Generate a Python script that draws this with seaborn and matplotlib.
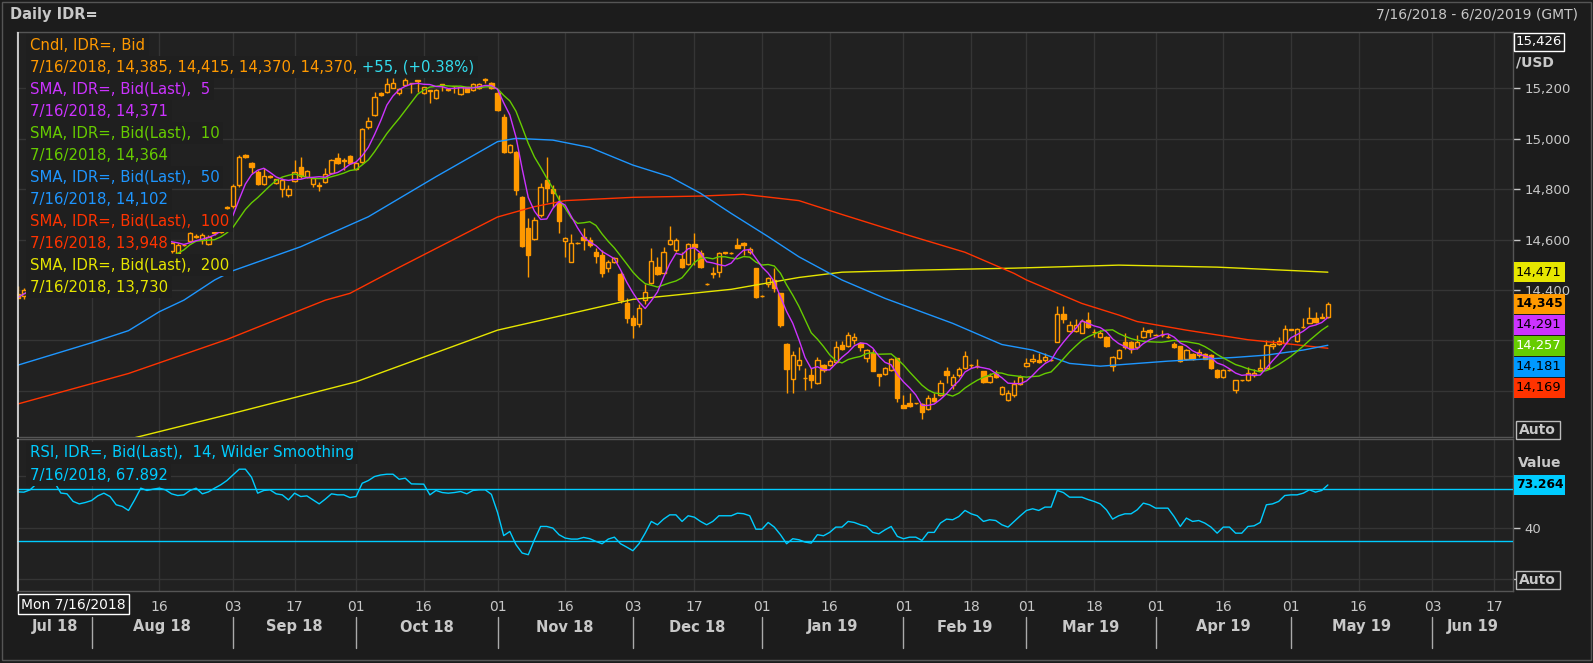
import numpy as np
import pandas as pd
import seaborn as sns
import matplotlib.pyplot as plt
import matplotlib.transforms as mtransforms
from matplotlib.patches import Rectangle

sns.set_theme(style='dark')
plt.rcParams['font.family'] = ['DejaVu Sans']

# ---------------------------------------------------------------------------
# data (one candle per weekday, day 0 = Mon 16 Jul 2018)
# ---------------------------------------------------------------------------
opens = [
    14385, 14375, 14400, 14420, 14470, 14500, 14505, 14490, 14470, 14450,
    14430, 14420, 14425, 14440, 14470, 14490, 14480, 14450, 14440, 14420,
    14480, 14590, 14600, 14610, 14590, 14556, 14548, 14580, 14596, 14615,
    14598, 14583, 14625, 14630, 14725, 14733, 14815, 14935, 14903, 14870,
    14819, 14852, 14826, 14800, 14777, 14834, 14887, 14847, 14819, 14818,
    14827, 14866, 14926, 14918, 14932, 14879, 14909, 15048, 15094, 15180,
    15184, 15203, 15180, 15213, 15222, 15232, 15180, 15193, 15161, 15217,
    15196, 15210, 15178, 15204, 15194, 15200, 15237, 15223, 15180, 15085,
    14949, 14949, 14770, 14645, 14601, 14698, 14836, 14801, 14744, 14595,
    14513, 14587, 14611, 14598, 14552, 14539, 14486, 14513, 14463, 14350,
    14290, 14265, 14360, 14429, 14493, 14469, 14581, 14559, 14522, 14502,
    14582, 14549, 14426, 14465, 14473, 14550, 14548, 14578, 14588, 14552,
    14486, 14377, 14424, 14440, 14387, 14186, 14046, 14102, 14052, 14063,
    14030, 14102, 14102, 14116, 14182, 14178, 14202, 14191, 14129, 14151,
    14067, 14065, 14082, 14129, 13944, 13950, 13951, 13948, 13927, 13970,
    13983, 14080, 14023, 14063, 14089, 14103, 14099, 14079, 14034, 14067,
    13987, 13964, 13982, 14027, 14099, 14118, 14122, 14122, 14122, 14195,
    14307, 14239, 14239, 14231, 14281, 14235, 14212, 14212, 14099, 14129,
    14195, 14195, 14175, 14215, 14241, 14223, 14222, 14215, 14186, 14178,
    14126, 14146, 14142, 14146, 14142, 14083, 14056, 14083, 14003, 14043,
    14043, 14063, 14083, 14089, 14179, 14188, 14191, 14244, 14199, 14254,
    14270, 14291, 14291, 14294]

highs = [
    14415, 14410, 14435, 14480, 14510, 14520, 14510, 14495, 14475, 14455,
    14440, 14435, 14450, 14480, 14500, 14495, 14485, 14455, 14445, 14480,
    14610, 14630, 14625, 14615, 14595, 14592, 14585, 14583, 14630, 14622,
    14628, 14618, 14635, 14705, 14735, 14820, 14935, 14940, 14910, 14875,
    14883, 14855, 14842, 14843, 14817, 14916, 14930, 14875, 14850, 14830,
    14883, 14920, 14942, 14925, 14935, 14910, 15045, 15088, 15187, 15187,
    15240, 15240, 15200, 15240, 15223, 15233, 15207, 15193, 15198, 15217,
    15198, 15210, 15207, 15207, 15220, 15222, 15240, 15226, 15195, 15098,
    14978, 14952, 14775, 14684, 14691, 14823, 14929, 14817, 14777, 14610,
    14622, 14590, 14645, 14611, 14565, 14559, 14519, 14532, 14470, 14370,
    14300, 14345, 14426, 14565, 14532, 14572, 14654, 14605, 14552, 14585,
    14625, 14559, 14430, 14493, 14552, 14553, 14551, 14605, 14592, 14569,
    14486, 14380, 14453, 14486, 14390, 14190, 14159, 14175, 14089, 14089,
    14135, 14106, 14125, 14198, 14199, 14235, 14228, 14195, 14168, 14168,
    14067, 14093, 14129, 14130, 13983, 13990, 13953, 13950, 13983, 13990,
    14045, 14096, 14067, 14096, 14158, 14106, 14125, 14080, 14069, 14083,
    14019, 14003, 14043, 14063, 14129, 14146, 14149, 14151, 14125, 14336,
    14336, 14278, 14284, 14284, 14314, 14244, 14241, 14217, 14138, 14168,
    14228, 14197, 14221, 14254, 14244, 14225, 14241, 14225, 14192, 14180,
    14166, 14150, 14165, 14150, 14145, 14085, 14085, 14085, 14043, 14045,
    14093, 14085, 14125, 14202, 14202, 14215, 14261, 14246, 14248, 14288,
    14334, 14314, 14310, 14354]

lows = [
    14370, 14365, 14395, 14415, 14460, 14490, 14480, 14460, 14440, 14420,
    14410, 14410, 14420, 14435, 14465, 14470, 14445, 14430, 14410, 14415,
    14475, 14580, 14590, 14580, 14560, 14546, 14545, 14575, 14592, 14605,
    14583, 14578, 14620, 14625, 14720, 14725, 14810, 14925, 14863, 14815,
    14817, 14845, 14822, 14770, 14770, 14830, 14843, 14843, 14810, 14793,
    14823, 14862, 14900, 14876, 14900, 14875, 14905, 15041, 15090, 15170,
    15180, 15200, 15175, 15210, 15183, 15187, 15178, 15143, 15158, 15191,
    15190, 15180, 15175, 15184, 15190, 15197, 15220, 15197, 15110, 14942,
    14945, 14777, 14570, 14453, 14598, 14691, 14750, 14731, 14625, 14532,
    14513, 14582, 14559, 14572, 14506, 14450, 14473, 14506, 14350, 14270,
    14210, 14255, 14345, 14426, 14460, 14466, 14578, 14552, 14486, 14499,
    14499, 14486, 14420, 14446, 14453, 14545, 14545, 14565, 14539, 14545,
    14367, 14373, 14413, 14393, 14252, 13990, 13990, 14083, 14003, 14010,
    14027, 14076, 14099, 14109, 14162, 14175, 14188, 14159, 14116, 14080,
    14019, 14063, 14080, 13957, 13934, 13937, 13947, 13887, 13924, 13957,
    13979, 14032, 14006, 14056, 14085, 14089, 14089, 14030, 14030, 14050,
    13983, 13961, 13977, 14023, 14093, 14109, 14109, 14116, 14120, 14195,
    14270, 14235, 14235, 14228, 14248, 14215, 14208, 14175, 14080, 14125,
    14168, 14149, 14168, 14208, 14215, 14220, 14215, 14208, 14172, 14116,
    14122, 14122, 14135, 14125, 14085, 14050, 14052, 14080, 13990, 14040,
    14040, 14056, 14083, 14085, 14168, 14182, 14188, 14240, 14195, 14248,
    14268, 14270, 14288, 14291]

closes = [
    14370, 14400, 14420, 14470, 14500, 14505, 14490, 14470, 14450, 14430,
    14420, 14425, 14440, 14470, 14490, 14480, 14450, 14440, 14420, 14470,
    14590, 14600, 14610, 14590, 14570, 14588, 14579, 14578, 14625, 14610,
    14618, 14612, 14630, 14700, 14730, 14813, 14929, 14930, 14887, 14819,
    14852, 14848, 14839, 14837, 14800, 14870, 14852, 14872, 14843, 14812,
    14859, 14916, 14903, 14914, 14903, 14905, 15041, 15071, 15165, 15176,
    15216, 15223, 15196, 15233, 15220, 15230, 15204, 15191, 15194, 15215,
    15194, 15208, 15204, 15187, 15217, 15217, 15235, 15200, 15114, 14949,
    14975, 14797, 14575, 14539, 14680, 14810, 14807, 14786, 14674, 14607,
    14585, 14585, 14598, 14579, 14535, 14469, 14513, 14526, 14360, 14290,
    14260, 14330, 14393, 14515, 14464, 14552, 14598, 14598, 14490, 14582,
    14572, 14493, 14424, 14467, 14548, 14548, 14548, 14568, 14578, 14562,
    14374, 14376, 14446, 14407, 14261, 14085, 14142, 14122, 14050, 14043,
    14122, 14083, 14118, 14175, 14168, 14221, 14212, 14175, 14162, 14080,
    14060, 14089, 14126, 13970, 13934, 13941, 13950, 13917, 13970, 13961,
    14032, 14063, 14056, 14085, 14139, 14102, 14097, 14034, 14059, 14056,
    14014, 13990, 14027, 14056, 14109, 14126, 14116, 14135, 14123, 14307,
    14284, 14261, 14261, 14278, 14255, 14234, 14228, 14179, 14135, 14162,
    14175, 14168, 14195, 14239, 14235, 14222, 14221, 14214, 14175, 14120,
    14162, 14125, 14155, 14128, 14089, 14056, 14083, 14082, 14043, 14044,
    14069, 14069, 14089, 14182, 14188, 14198, 14244, 14243, 14244, 14255,
    14291, 14274, 14292, 14345]

rsi = [
    67.9, 67.7, 69.5, 74.0, 76.0, 77.0, 75.0, 67.0, 66.4, 60.5,
    58.6, 59.7, 61.2, 64.8, 66.9, 64.3, 57.9, 56.6, 53.5, 61.7,
    70.8, 69.0, 70.0, 70.8, 69.5, 66.4, 65.1, 65.6, 69.0, 70.8,
    66.4, 67.9, 70.8, 73.4, 76.7, 81.1, 85.5, 85.5, 79.3, 66.9,
    69.0, 69.5, 66.4, 65.6, 61.7, 66.9, 64.3, 64.8, 61.7, 58.6,
    62.3, 66.4, 65.6, 65.6, 63.5, 64.3, 74.6, 76.7, 79.8, 81.0,
    81.6, 81.6, 77.7, 78.5, 74.1, 74.0, 73.9, 65.6, 69.0, 67.4,
    66.9, 67.4, 68.2, 66.4, 69.0, 69.5, 69.5, 66.0, 52.0, 34.0,
    37.2, 27.0, 20.5, 19.2, 30.8, 41.1, 41.1, 39.8, 34.7, 32.1,
    31.3, 31.3, 32.6, 31.6, 29.5, 27.7, 31.3, 32.8, 27.7, 25.1,
    22.3, 27.7, 35.9, 45.0, 42.4, 46.8, 50.1, 50.1, 45.0, 49.4,
    48.3, 45.0, 42.4, 45.0, 49.4, 49.4, 49.4, 51.4, 51.0, 49.4,
    39.0, 39.0, 44.2, 40.6, 34.7, 27.7, 31.6, 30.8, 29.0, 28.2,
    34.7, 33.9, 36.5, 40.6, 40.6, 45.0, 44.2, 42.4, 41.1, 36.5,
    35.4, 38.5, 41.1, 33.4, 31.6, 32.8, 32.8, 30.3, 36.5, 36.5,
    43.7, 46.8, 46.3, 48.8, 53.5, 50.9, 49.4, 45.0, 46.3, 45.7,
    42.4, 40.6, 45.0, 49.4, 53.5, 54.8, 53.5, 56.1, 56.1, 69.0,
    67.4, 63.8, 63.8, 63.8, 62.0, 60.5, 58.6, 54.0, 46.8, 49.4,
    50.9, 50.9, 54.0, 59.2, 57.9, 55.3, 55.3, 55.3, 48.8, 41.1,
    47.6, 45.0, 45.7, 43.7, 40.6, 35.9, 40.6, 40.6, 35.9, 35.9,
    41.1, 41.6, 44.2, 57.9, 58.6, 60.5, 65.1, 65.6, 65.6, 66.9,
    69.5, 67.7, 69.0, 73.264]

# long moving averages, read at sample days
sma50_day = [0, 12, 18, 23, 27, 32, 35, 46, 57, 68, 78, 81, 87, 93, 100, 106,
             111, 116, 122, 127, 134, 141, 152, 160, 165, 171, 176, 187, 198,
             203, 209, 213]
sma50_val = [14102, 14191, 14239, 14314, 14360, 14440, 14477, 14572, 14691,
             14850, 14989, 15002, 14995, 14966, 14896, 14850, 14784, 14704,
             14612, 14532, 14440, 14367, 14268, 14184, 14162, 14109, 14098,
             14118, 14133, 14142, 14162, 14181]
sma100_day = [0, 18, 34, 50, 54, 62, 78, 84, 89, 100, 111, 118, 127, 134, 145,
              154, 162, 164, 173, 179, 182, 190, 200, 206, 213]
sma100_val = [13948, 14069, 14204, 14360, 14387, 14490, 14690, 14731, 14755,
              14768, 14773, 14780, 14755, 14700, 14616, 14550, 14466, 14440,
              14347, 14301, 14275, 14241, 14203, 14188, 14169]
sma200_day = [0, 18, 35, 55, 78, 100, 116, 127, 134, 146, 162, 179, 195, 213]
sma200_val = [13730, 13808, 13911, 14036, 14241, 14363, 14403, 14450, 14471,
              14479, 14487, 14499, 14491, 14471]

# date axis (the Aug 1 label sits under the cursor date box)
tick_day = [12, 23, 35, 45, 55, 66, 78, 89, 100, 110, 121, 132, 144, 155, 164,
            175, 185, 196, 207, 218, 230, 240]
tick_lbl = ['', '16', '03', '17', '01', '16', '01', '16', '03', '17', '01',
            '16', '01', '18', '01', '18', '01', '16', '01', '16', '03', '17']
month_day = [0, 12, 35, 55, 78, 100, 121, 144, 164, 185, 207, 230]
month_lbl = ['Jul 18', 'Aug 18', 'Sep 18', 'Oct 18', 'Nov 18', 'Dec 18',
             'Jan 19', 'Feb 19', 'Mar 19', 'Apr 19', 'May 19', 'Jun 19']
price_ticks = [14000, 14200, 14400, 14600, 14800, 15000, 15200]
price_lbl = ['', '', '14,400', '14,600', '14,800', '15,000', '15,200']

# ---------------------------------------------------------------------------
BG = '#1c1c1c'
PANEL = '#212121'
GRID = '#353535'
TXT = '#c8c8c8'
ORANGE = '#ff9900'
PURPLE = '#cc33ff'
GREEN = '#66cc00'
BLUE = '#1e96ff'
RED = '#ff3300'
YELLOW = '#e6e600'
CYAN = '#00ccff'

W, H = 1593, 663
X_END = 243.1


def fx(px):
    return px / W


def fy(py):
    return 1 - py / H


df = pd.DataFrame({'day': np.arange(len(closes)), 'open': opens, 'high': highs,
                   'low': lows, 'close': closes, 'rsi': rsi})
df['sma5'] = df['close'].rolling(5, min_periods=1).mean()
df['sma10'] = df['close'].rolling(10, min_periods=1).mean()
s50 = pd.DataFrame({'day': sma50_day, 'v': sma50_val})
s100 = pd.DataFrame({'day': sma100_day, 'v': sma100_val})
s200 = pd.DataFrame({'day': sma200_day, 'v': sma200_val})

fig = plt.figure(figsize=(W / 100, H / 100), dpi=100, facecolor=BG)
ax = fig.add_axes([fx(17.3), fy(437), fx(1513) - fx(17.3), fy(31.5) - fy(437)])
axr = fig.add_axes([fx(17.3), fy(590.7), fx(1513) - fx(17.3), fy(439) - fy(590.7)])

for a in (ax, axr):
    a.set_facecolor(PANEL)
    for s in a.spines.values():
        s.set_color('#555555')
        s.set_linewidth(1)
    a.set_xlim(-0.08, X_END)
    a.set_xticks(tick_day)
    a.grid(True, color=GRID, linewidth=1)
    a.set_axisbelow(True)
    a.yaxis.tick_right()
    a.tick_params(axis='y', colors=TXT, labelsize=9.5, length=5, pad=3,
                  width=1)

# ---------------- candles ----------------
up = df['close'] >= df['open']
ax.vlines(df['day'], df['low'], df['high'], color=ORANGE, linewidth=1, zorder=3)
ax.bar(df['day'][up], (df['close'] - df['open'])[up], bottom=df['open'][up],
       width=0.7, facecolor=PANEL, edgecolor=ORANGE, linewidth=1, zorder=4)
ax.bar(df['day'][~up], (df['open'] - df['close'])[~up], bottom=df['close'][~up],
       width=0.7, facecolor=ORANGE, edgecolor=ORANGE, linewidth=1, zorder=4)

sns.lineplot(data=s200, x='day', y='v', ax=ax, color=YELLOW, linewidth=1, zorder=5)
sns.lineplot(data=s100, x='day', y='v', ax=ax, color=RED, linewidth=1, zorder=5)
sns.lineplot(data=s50, x='day', y='v', ax=ax, color=BLUE, linewidth=1, zorder=5)
sns.lineplot(data=df, x='day', y='sma10', ax=ax, color=GREEN, linewidth=1, zorder=5)
sns.lineplot(data=df, x='day', y='sma5', ax=ax, color=PURPLE, linewidth=1, zorder=5)

ax.set_ylim(13817, 15426)
ax.set_yticks(price_ticks)
ax.set_yticklabels(price_lbl)
ax.tick_params(axis='x', length=0, labelbottom=False)
ax.set_xlabel('')
ax.set_ylabel('')

# cursor line at the first day
for a in (ax, axr):
    a.axvline(0, color='#e0e0e0', linewidth=1.2, zorder=6)

# ---------------- legend rows ----------------
rows = [
    ('Cndl, IDR=, Bid', ORANGE),
    ('7/16/2018, 14,385, 14,415, 14,370, 14,370,', ORANGE),
    ('SMA, IDR=, Bid(Last),  5', PURPLE),
    ('7/16/2018, 14,371', PURPLE),
    ('SMA, IDR=, Bid(Last),  10', GREEN),
    ('7/16/2018, 14,364', GREEN),
    ('SMA, IDR=, Bid(Last),  50', BLUE),
    ('7/16/2018, 14,102', BLUE),
    ('SMA, IDR=, Bid(Last),  100', RED),
    ('7/16/2018, 13,948', RED),
    ('SMA, IDR=, Bid(Last),  200', YELLOW),
    ('7/16/2018, 13,730', YELLOW),
]
box = dict(facecolor='#1f1f1f', edgecolor='none', pad=2.6)
for k, (txt, col) in enumerate(rows):
    t = fig.text(fx(30), fy(45 + 22 * k), txt, color=col, fontsize=10.7,
                 va='center', ha='left', bbox=box, zorder=10)
    if k == 1:
        fig.add_artist(plt.Annotation(' +55, (+0.38%)', xy=(1, 0.5),
                                      xycoords=t, va='center', ha='left',
                                      color='#33ddee', fontsize=10.7,
                                      bbox=box, zorder=10,
                                      annotation_clip=False))
fig.text(fx(30), fy(453), 'RSI, IDR=, Bid(Last),  14, Wilder Smoothing',
         color=CYAN, fontsize=10.7, va='center', bbox=box, zorder=10)
fig.text(fx(30), fy(475), '7/16/2018, 67.892', color=CYAN, fontsize=10.7,
         va='center', bbox=box, zorder=10)

# ---------------- right value boxes (main) ----------------
ppx = (15426 - 13817) / (437 - 31.5)
trans_m = mtransforms.blended_transform_factory(ax.transAxes, ax.transData)
boxw = 51 / (1513 - 17.3)
last = [(sma200_val[-1], YELLOW, 'black', 'normal'),
        (closes[-1], ORANGE, 'black', 'bold'),
        (df['sma5'].iloc[-1], PURPLE, 'black', 'normal'),
        (df['sma10'].iloc[-1], GREEN, 'white', 'normal'),
        (sma50_val[-1], '#0099ff', 'black', 'normal'),
        (sma100_val[-1], RED, 'black', 'normal')]
prev = None
for val, col, tcol, wt in last:
    yv = val if prev is None else min(val, prev - 21 * ppx)
    prev = yv
    ax.add_patch(Rectangle((1.0007, yv - 10 * ppx), boxw, 20 * ppx,
                           transform=trans_m, facecolor=col, edgecolor='none',
                           clip_on=False, zorder=8))
    ax.text(1.0018, yv, f'{val:,.0f}', transform=trans_m, color=tcol,
            fontsize=9.4 if wt == 'normal' else 8.9, fontweight=wt,
            va='center', ha='left', zorder=9, clip_on=False)

# top value box and labels
top_v = ax.get_ylim()[1]
fig.add_artist(Rectangle((fx(1514), fy(51)), 50 / W, 18 / H,
                         transform=fig.transFigure, fill=False,
                         edgecolor='white', linewidth=1))
fig.text(fx(1516), fy(42), f'{top_v:,.0f}', color='white', fontsize=9.5,
         va='center')
fig.text(fx(1516), fy(63), '/USD', color=TXT, fontsize=10, fontweight='bold',
         va='center')


def auto_box(py):
    fig.add_artist(Rectangle((fx(1516), fy(py + 9)), 44 / W, 18 / H,
                             transform=fig.transFigure, facecolor=BG,
                             edgecolor='#bbbbbb', linewidth=1, zorder=9))
    fig.text(fx(1519), fy(py), 'Auto', color=TXT, fontsize=10,
             fontweight='bold', va='center', zorder=10)


auto_box(430)
auto_box(580)

# ---------------- RSI ----------------
sns.lineplot(data=df, x='day', y='rsi', ax=axr, color=CYAN, linewidth=1, zorder=5)
axr.axhline(70, color=CYAN, linewidth=1, zorder=4)
axr.axhline(30, color=CYAN, linewidth=1, zorder=4)
axr.set_ylim(-8.7, 108.9)
axr.set_yticks([0, 40, 80])
axr.set_yticklabels(['', '40', ''])
axr.set_xticklabels(tick_lbl)
axr.tick_params(axis='x', colors=TXT, labelsize=10, length=3, pad=4)
axr.set_xlabel('')
axr.set_ylabel('')

trans_r = mtransforms.blended_transform_factory(axr.transAxes, axr.transData)
rppx = (108.9 + 8.7) / (590.7 - 439)
axr.add_patch(Rectangle((1.0007, rsi[-1] - 10 * rppx), boxw, 20 * rppx,
                        transform=trans_r, facecolor=CYAN, edgecolor='none',
                        clip_on=False, zorder=8))
axr.text(1.0018, rsi[-1], f'{rsi[-1]:.3f}', transform=trans_r, color='black',
         fontsize=8.9, fontweight='bold', va='center', zorder=9, clip_on=False)
fig.text(fx(1518), fy(463), 'Value', color=TXT, fontsize=10, fontweight='bold',
         va='center')

# month row
trans_d = mtransforms.blended_transform_factory(axr.transData, fig.transFigure)
bounds = month_day + [X_END]
for k, lbl in enumerate(month_lbl):
    c = (max(bounds[k], -0.08) + bounds[k + 1]) / 2
    fig.text(c, fy(627), lbl, transform=trans_d, color=TXT, fontsize=10.5,
             fontweight='bold', ha='center', va='center')
for d in month_day[1:]:
    fig.add_artist(plt.Line2D([d, d], [fy(617), fy(648)], transform=trans_d,
                              color='#aaaaaa', linewidth=1))

fig.text(fx(21), fy(604), 'Mon 7/16/2018', color='white', fontsize=10,
         va='center', ha='left', zorder=12,
         bbox=dict(facecolor=BG, edgecolor='white', pad=2.5))

# title bar
fig.text(fx(10), fy(14), 'Daily IDR=', color=TXT, fontsize=10.5,
         fontweight='bold', va='center')
fig.text(fx(1578), fy(14), '7/16/2018 - 6/20/2019 (GMT)', color=TXT,
         fontsize=10, va='center', ha='right')
fig.add_artist(Rectangle((fx(2), fy(660)), 1589 / W, 658 / H,
                         transform=fig.transFigure, fill=False,
                         edgecolor='#555555', linewidth=1))

fig.savefig('out.png', dpi=100, facecolor=BG)
